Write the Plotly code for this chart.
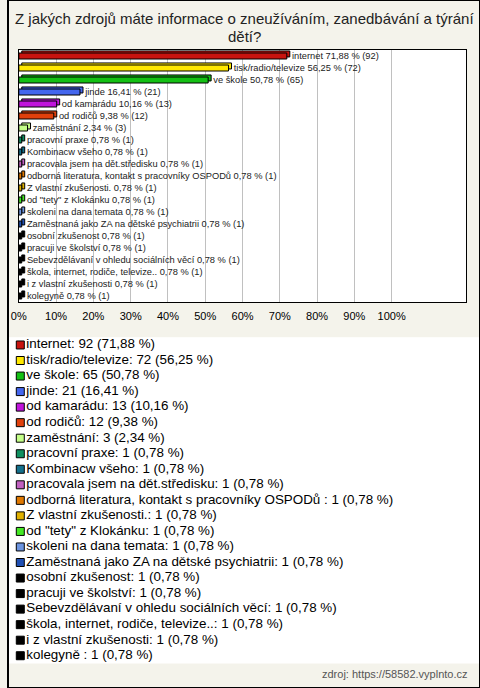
import plotly.graph_objects as go

categories = [
    "internet", "tisk/radio/televize", "ve škole", "jinde", "od kamarádu",
    "od rodičů", "zaměstnání", "pracovní praxe", "Kombinacw všeho",
    "pracovala jsem na dět.středisku",
    "odborná literatura, kontakt s pracovníky OSPODů ",
    "Z vlastní zkušenosti.", "od \"tety\" z Klokánku", "skoleni na dana temata",
    "Zaměstnaná jako ZA na dětské psychiatrii", "osobní zkušenost",
    "pracuji ve školství", "Sebevzdělávaní v ohledu sociálních věcí",
    "škola, internet, rodiče, televize..", "i z vlastní zkušenosti", "kolegyně ",
]
counts = [92, 72, 65, 21, 13, 12, 3, 1, 1, 1, 1, 1, 1, 1, 1, 1, 1, 1, 1, 1, 1]
percents = [71.88, 56.25, 50.78, 16.41, 10.16, 9.38, 2.34, 0.78, 0.78, 0.78,
            0.78, 0.78, 0.78, 0.78, 0.78, 0.78, 0.78, 0.78, 0.78, 0.78, 0.78]
colors = [
    "#c8140f", "#ffe800", "#14c014", "#4466ee", "#c014dc", "#e0400c",
    "#c4ff88", "#109060", "#14708c", "#c060c0", "#e07800", "#e0b000",
    "#44e824", "#6c94e0", "#2050b4", "#000000", "#000000", "#000000",
    "#000000", "#000000", "#000000",
]
tick_vals = [0, 10, 20, 30, 40, 50, 60, 70, 80, 90, 100]
tick_text = ["0%", "10%", "20%", "30%", "40%", "50%", "60%", "70%", "80%", "90%", "100%"]

title_lines = ["Z jakých zdrojů máte informace o zneužíváním, zanedbávání a týrání",
               "dětí?"]
source = "zdroj: https://58582.vyplnto.cz"

def fmt(v):
    return f"{v:.2f}".replace(".", ",")

bar_text = ["\u00a0\u00a0" + c.rstrip() + " " + fmt(p) + " % (" + str(n) + ")"
            for c, p, n in zip(categories, percents, counts)]
legend_text = [c + ": " + str(n) + " (" + fmt(p) + " %)"
               for c, p, n in zip(categories, percents, counts)]

idx = list(range(len(categories)))
FONT = "Liberation Sans, Arial, sans-serif"

fig = go.Figure()
# back face (3D depth)
fig.add_trace(go.Bar(
    y=idx, x=percents, base=[0.8] * len(idx), orientation="h",
    width=0.5, offset=-0.42,
    marker=dict(color=colors, line=dict(color="#000000", width=1)),
    hoverinfo="skip", showlegend=False,
))
# front face
fig.add_trace(go.Bar(
    y=idx, x=percents, orientation="h", width=0.5, offset=-0.25,
    marker=dict(color=colors, line=dict(color="#000000", width=1)),
    text=bar_text, textposition="outside", constraintext="none",
    cliponaxis=False,
    outsidetextfont=dict(family=FONT, size=9.3, color="#222222"),
    showlegend=False,
))
# legend drawn as a scatter on its own axes
fig.add_trace(go.Scatter(
    x=[12.5] * len(idx), y=idx, mode="markers+text",
    marker=dict(symbol="square", size=8, color=colors,
                line=dict(color="#000000", width=1)),
    text=legend_text, textposition="middle right",
    textfont=dict(family=FONT, size=13.4, color="#000000"),
    xaxis="x2", yaxis="y2", cliponaxis=False, showlegend=False,
))

annotations = [
    dict(text=t, x=0.5, y=1 - yc / 688, xref="paper", yref="paper",
         xanchor="center", yanchor="middle", showarrow=False, borderpad=0,
         font=dict(size=15, color="#222222", family=FONT))
    for t, yc in zip(title_lines, [18, 37])
]
annotations.append(
    dict(text=source, x=1 - 10 / 480, y=1 - 682 / 688, xref="paper",
         yref="paper", xanchor="right", yanchor="bottom", showarrow=False,
         font=dict(size=11, color="#555555", family=FONT)))

fig.update_layout(
    width=480, height=688,
    margin=dict(l=0, r=0, t=0, b=0),
    paper_bgcolor="#f4f3eb", plot_bgcolor="#ffffff",
    barmode="overlay",
    font=dict(family=FONT, color="#000000"),
    xaxis=dict(domain=[11 / 480, 466 / 480], range=[0, 120],
               tickvals=tick_vals, ticktext=tick_text,
               showgrid=True, gridcolor="#c0c0c0", gridwidth=1,
               zeroline=False, showline=True, linecolor="#000000",
               linewidth=1, mirror=True, ticks="outside", ticklen=4,
               tickcolor="rgba(0,0,0,0)",
               tickfont=dict(size=11, color="#000000"), fixedrange=True),
    yaxis=dict(domain=[1 - 302 / 688, 1 - 50 / 688],
               range=[20.5, -0.5], showticklabels=False, showgrid=False,
               zeroline=False, showline=True, linecolor="#000000",
               linewidth=1, mirror=True, fixedrange=True),
    xaxis2=dict(domain=[0, 1], range=[0, 480], visible=False, anchor="y2"),
    yaxis2=dict(domain=[1 - 663.5 / 688, 1 - 337.2 / 688], range=[20.5, -0.5],
                visible=False, anchor="x2"),
    annotations=annotations,
    shapes=[dict(type="rect", xref="paper", yref="paper", x0=0, x1=1, y0=0,
                 y1=1, line=dict(color="#000000", width=2))],
)

fig.write_html(
    "out.html",
    config={"displayModeBar": False},
    post_script="document.body.style.margin='0';document.body.style.padding='0';",
)
